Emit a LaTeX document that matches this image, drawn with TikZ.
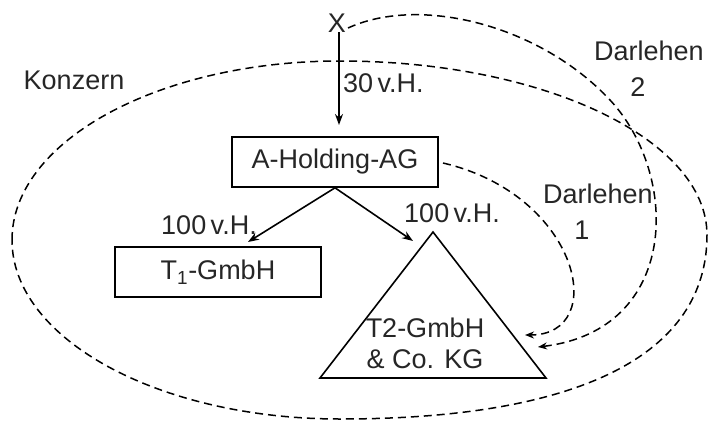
\documentclass[tikz,border=0pt]{standalone}
\usepackage{fontspec}
\setmainfont{Liberation Sans}
\usetikzlibrary{arrows.meta}
\tikzset{
  lbl/.style={font=\fontsize{27}{31}\selectfont, text=black!85, inner sep=0pt},
  boxnode/.style={draw, line width=1.6pt, minimum width=206pt, minimum height=50pt, inner sep=0pt, font=\fontsize{27}{31}\selectfont, text=black!85},
  solidarrow/.style={line width=1.6pt, -{Stealth[length=11pt,width=8pt]}},
  dasharrow/.style={line width=1.5pt, dash pattern=on 8pt off 5pt, -{Stealth[length=9pt,width=7pt]}},
  dashline/.style={line width=1.5pt, dash pattern=on 8pt off 5pt}
}
\begin{document}
\begin{tikzpicture}[x=1pt,y=-1pt]
\useasboundingbox (0,0) rectangle (710,421);
% Konzern boundary
\coordinate (kl) at (12,240);
\coordinate (kt) at (340,61);
\coordinate (kr) at (707,235);
\coordinate (kb) at (340,419);
\draw[dashline] (kl) .. controls (12,141) and (159,61) .. (kt)
  .. controls (543,61) and (707,139) .. (kr)
  .. controls (707,355) and (579,419) .. (kb)
  .. controls (159,419) and (12,339) .. (kl) -- cycle;
\node[lbl] (konzern) at (74,80) {Konzern};
% nodes
\node[lbl] (X) at (337,23) {X};
\node[boxnode] (A) at (335,162) {A-Holding-AG};
\node[boxnode] (T1) at (218,272) {T\textsubscript{1}-GmbH};
\coordinate (apex) at (433,232);
\coordinate (bl) at (320,378);
\coordinate (br) at (546,378);
\draw[line width=1.6pt, line join=miter] (apex) -- (bl) -- (br) -- cycle;
\node[lbl, align=center] (T2) at (425,343) {T2-GmbH\\\& Co. KG};
% ownership arrows
\coordinate (Atop) at (339,125);
\coordinate (T1in) at (248,242);
\coordinate (T2in) at (413,241);
\draw[solidarrow] (X.south -| Atop) -- (Atop);
\draw[solidarrow] (A.south) -- (T1in);
\draw[solidarrow] (A.south) -- (T2in);
\node[lbl, anchor=west] (p30) at (343,83) {30\,v.H.};
\node[lbl] (p100a) at (209,225) {100\,v.H.};
\node[lbl] (p100b) at (452,213) {100\,v.H.};
% loans
\coordinate (D1start) at (443,163);
\coordinate (D1end) at (525,335);
\coordinate (D2start) at (348,28);
\coordinate (D2mid) at (610,100);
\coordinate (D2end) at (538,347);
\draw[dasharrow] (D1start) .. controls (580,195) and (610,335) .. (D1end);
\draw[dasharrow] (D2start) .. controls (420,-5) and (540,25) .. (D2mid)
   .. controls (680,175) and (680,330) .. (D2end);
\node[lbl] (d1) at (598,194) {Darlehen};
\node[lbl] (d1n) at (582,230) {1};
\node[lbl] (d2) at (649,51) {Darlehen};
\node[lbl] (d2n) at (638,87) {2};
\end{tikzpicture}
\end{document}
